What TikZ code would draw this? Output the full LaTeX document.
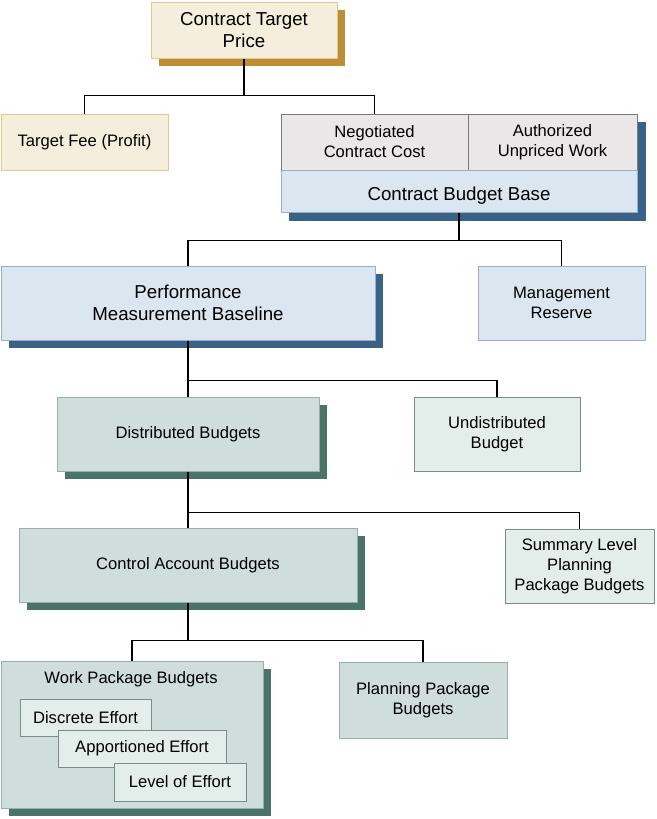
\documentclass[tikz,border=0pt]{standalone}
\usepackage{fontspec}
\setmainfont{Liberation Sans}
\usetikzlibrary{shadows, fit, backgrounds}
\usetikzlibrary{positioning}

\definecolor{creamfill}{HTML}{F6EEDC}
\definecolor{creamline}{HTML}{E2C890}
\definecolor{goldshade}{HTML}{BC8E35}
\definecolor{grayfill}{HTML}{E9E7E7}
\definecolor{grayline}{HTML}{7A7A7A}
\definecolor{bluefill}{HTML}{DCE6F0}
\definecolor{blueline}{HTML}{98AEC4}
\definecolor{blueshade}{HTML}{3A6286}
\definecolor{greenfill}{HTML}{CFDEDB}
\definecolor{palegreen}{HTML}{E3EDEA}
\definecolor{greenline}{HTML}{98AFA9}
\definecolor{greenshade}{HTML}{4A7467}

\tikzset{
  box/.style={draw, rectangle, inner sep=0pt, align=center, line width=1pt,
    font=\fontsize{16.6}{20}\selectfont},
  bigbox/.style={box, font=\fontsize{18.7}{22}\selectfont},
  cream/.style={fill=creamfill, draw=creamline},
  graycell/.style={fill=grayfill, draw=grayline},
  blue/.style={fill=bluefill, draw=blueline},
  green/.style={fill=greenfill, draw=greenline},
  lightgreen/.style={fill=palegreen, draw=greenline!80!black},
  goldshadow/.style={general shadow={fill=goldshade, shadow xshift=8pt, shadow yshift=-8pt}},
  blueshadow/.style={general shadow={fill=blueshade, shadow xshift=8pt, shadow yshift=-8pt}},
  greenshadow/.style={general shadow={fill=greenshade, shadow xshift=8pt, shadow yshift=-8pt}},
  link/.style={draw=black, line width=1.9pt},
}

\begin{document}
\begin{tikzpicture}[x=1pt, y=-1pt]
            \useasboundingbox (0,0) rectangle (656,819);

            % top
            \node[bigbox, cream, goldshadow, minimum width=186pt, minimum height=56pt] (ctp) at (244,30) {Contract Target\\Price};
            \node[box, cream, minimum width=167pt, minimum height=56pt] (fee) at (84.5,142) {Target Fee (Profit)};

            % contract budget base group
            \node[box, graycell, minimum width=187pt, minimum height=56pt] (ncc) at (374.5,142) {Negotiated\\Contract Cost};
            \node[box, graycell, minimum width=169pt, minimum height=56pt] (auw) at (552.5,142) {Authorized\\Unpriced Work};
            \node[bigbox, blue, text height=23pt, minimum width=356pt, minimum height=42pt] (cbb) at (459,191) {Contract Budget Base};
            \begin{scope}[on background layer]
                \node[fit=(ncc)(auw)(cbb), inner sep=0pt, blueshadow] (cbbgroup) {};
            \end{scope}

            \node[bigbox, blue, blueshadow, minimum width=374pt, minimum height=74pt] (pmb) at (188,303) {Performance\\Measurement Baseline};
            \node[box, blue, minimum width=167pt, minimum height=74pt] (mr) at (561.5,303) {Management\\Reserve};

            \node[box, green, greenshadow, minimum width=262pt, minimum height=74pt] (db) at (188,434) {Distributed Budgets};
            \node[box, lightgreen, minimum width=166pt, minimum height=74pt] (ub) at (497,434) {Undistributed\\Budget};

            \node[box, green, greenshadow, minimum width=338pt, minimum height=74pt] (cab) at (188,565) {Control Account Budgets};
            \node[box, lightgreen, minimum width=149pt, minimum height=74pt] (slpp) at (579.5,566) {Summary Level\\Planning\\Package Budgets};

            % work packages
            \node[box, green, greenshadow, minimum width=262pt, minimum height=147pt] (wpb) at (132,734.5) {};
            \node[font=\fontsize{16.6}{20}\selectfont] (wpbtitle) at (131,679) {Work Package Budgets};
            \node[box, lightgreen, minimum width=131pt, minimum height=37pt] (de) at (85.5,717.5) {Discrete Effort};
            \node[box, lightgreen, minimum width=168pt, minimum height=37pt] (ae) at (142,748.5) {Apportioned Effort};
            \node[box, lightgreen, minimum width=132pt, minimum height=38pt] (loe) at (180,782) {Level of Effort};
            \node[box, green, minimum width=168pt, minimum height=76pt] (ppb) at (423,700) {Planning Package\\Budgets};

            % connectors
            \draw[link] (ctp.south) -- ++(0,37) -| (fee.north);
            \draw[link] (ctp.south) -- ++(0,37) -| (ncc.north);
            \draw[link] (cbb.south) -- ++(0,28) -| (pmb.north);
            \draw[link] (cbb.south) -- ++(0,28) -| (mr.north);
            \draw[link] (pmb.south) -- ++(0,40) -| (db.north);
            \draw[link] (pmb.south) -- ++(0,40) -| (ub.north);
            \draw[link] (db.south) -- ++(0,41) -| (cab.north);
            \draw[link] (db.south) -- ++(0,41) -| (slpp.north);
            \draw[link] (cab.south) -- ++(0,38) -| (wpb.north);
            \draw[link] (cab.south) -- ++(0,38) -| (ppb.north);
        \end{tikzpicture}
\end{document}
